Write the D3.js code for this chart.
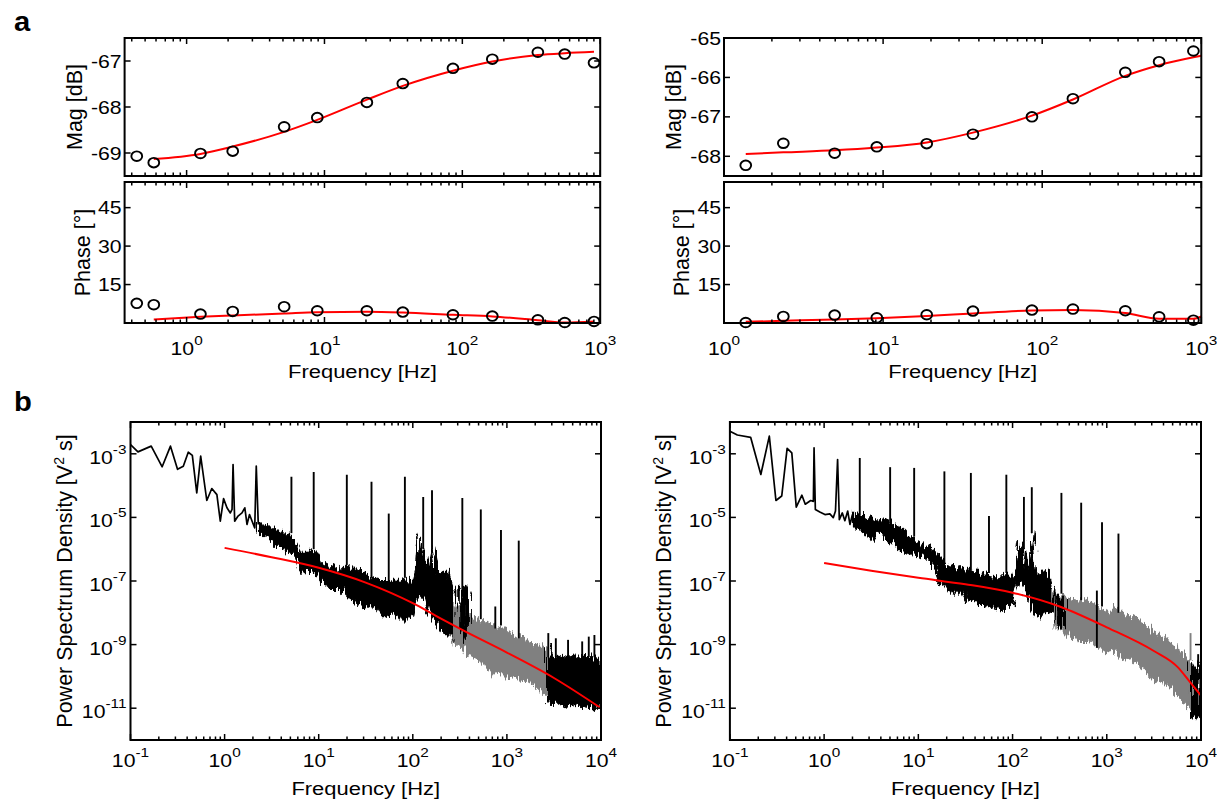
<!DOCTYPE html>
<html><head><meta charset="utf-8">
<script src="https://cdn.jsdelivr.net/npm/d3@7"></script>
<style>
body{margin:0;background:#fff}
svg{display:block}
text{font-family:"Liberation Sans", Arial, Helvetica, sans-serif;fill:#000}
</style>
</head><body>
<svg id="c" width="1217" height="802"></svg>
<script>
// ---------------- DATA: panel a (Bode) ----------------
const bodeFreqL = [0.435,0.578,1.26,2.16,5.1,8.87,20.3,37,85.5,165,353,553,902];
const bodeMagL  = [-69.07,-69.21,-69.01,-68.96,-68.43,-68.23,-67.90,-67.49,-67.16,-66.96,-66.81,-66.85,-67.04];
const bodePhL   = [7.66,7.14,3.47,4.52,6.35,4.78,4.78,4.26,3.21,2.69,1.25,0.2,0.6];
const fitFreqL  = [0.578,1.26,2.16,5.1,8.87,20.3,37,85.5,165,353,553,902];
const fitMagL   = [-69.13,-69.02,-68.86,-68.54,-68.28,-67.84,-67.54,-67.21,-67.01,-66.87,-66.83,-66.80];
const fitPhL    = [1.38,2.4,2.95,3.7,4.2,4.4,4.1,3.2,2.55,1.1,0.2,0.6];

const bodeFreqR = [1.37,2.36,4.96,9.13,18.8,36.7,86.2,156,333,543,892];
const bodeMagR  = [-68.23,-67.67,-67.92,-67.76,-67.68,-67.44,-67.0,-66.54,-65.87,-65.60,-65.33];
const bodePhR   = [0.2,2.55,3.08,2.03,3.21,4.65,5.04,5.44,4.78,2.42,1.11];
const fitFreqR  = [1.37,2.36,4.96,9.13,18.8,36.7,86.2,156,333,543,892,1000];
const fitMagR   = [-67.94,-67.90,-67.85,-67.78,-67.65,-67.40,-66.97,-66.56,-65.96,-65.69,-65.49,-65.45];
const fitPhR    = [0.46,0.85,1.38,1.9,2.7,3.73,4.9,5.04,3.86,1.64,1.64,2.55];

const magTicksL = [-69,-68,-67];
const magTicksR = [-68,-67,-66,-65];
const phaseTicks = [15,30,45];

// ---------------- DATA: panel b (PSD), left ----------------
const lineFL = [0.1,0.12,0.166,0.217,0.266,0.316,0.364,0.411,0.454,0.506,0.557,0.647,0.731,0.828,0.9,0.975,1.06,1.15,1.2,1.23,1.28,1.39,1.53,1.64,1.73,1.84,1.96,2.09,2.17,2.28];
const lineVL = [1.95e-3,1.15e-3,1.74e-3,3.9e-4,1.74e-3,3.24e-4,4.07e-4,1.12e-3,8.9e-4,5.9e-5,8.5e-4,3.4e-5,8.1e-5,5.2e-5,7.6e-6,3.9e-5,2.0e-5,1.38e-5,1.78e-5,4.6e-4,7.6e-6,1.1e-5,1.38e-5,2.0e-5,6.0e-6,1.23e-5,7.6e-6,4.7e-6,4.1e-4,6.0e-6];

const bandFL = [2.29,2.82,3.21,3.59,4.11,4.57,5.13,5.82,6.41,7.53,8.85,10.4,12.2,14.4,16.9,19.9,23.3,27.5,32.3,37.9,44.6,52.4,61.5,72.4,85.1,100,108,117,133,144,163,183,207,233,264,279];
const bandUL = [7.1e-6,5.2e-6,4.7e-6,4.2e-6,3.7e-6,2.8e-6,3.2e-6,1.41e-6,7.9e-7,7.9e-7,9.8e-7,4.2e-7,3.3e-7,2.6e-7,2.0e-7,3.3e-7,2.0e-7,2.6e-7,1.58e-7,1.26e-7,1.1e-7,1.1e-7,9.8e-8,9.8e-8,1.26e-7,8.7e-8,2.0e-7,3.2e-6,8.7e-7,2.0e-7,1.1e-6,1.58e-7,2.0e-7,2.0e-7,6.0e-8,5.0e-8];
const bandLL = [3.2e-6,2.3e-6,2.0e-6,1.23e-6,1.23e-6,7.9e-7,7.1e-7,5.0e-7,1.9e-7,2.0e-7,2.0e-7,9.8e-8,7.8e-8,5.4e-8,5.4e-8,3.3e-8,2.3e-8,1.82e-8,1.58e-8,2.0e-8,8.7e-9,8.7e-9,1.12e-8,6.0e-9,6.0e-9,6.9e-9,2.3e-8,3.7e-8,2.6e-8,1.12e-8,6.9e-9,4.3e-9,2.6e-9,2.0e-9,1.82e-9,1.26e-9];

const grayFL = [275,323,379,446,524,615,724,851,1000,1191,1445,1754,2188,2710];
const grayUL = [1.41e-8,2.0e-8,8.7e-9,6.9e-9,5.4e-9,4.8e-9,4.3e-9,3.3e-9,3.3e-9,1.82e-9,1.58e-9,1.12e-9,8.9e-10,6.9e-10];
const grayLL = [8.9e-10,1.0e-9,4.8e-10,3.8e-10,3.0e-10,2.3e-10,1.12e-10,1.45e-10,8.9e-11,1.0e-10,7.9e-11,6.2e-11,4.0e-11,2.3e-11];

const patchFL = [316,355,389];
const patchUL = [5.0e-8,6.3e-8,3.2e-8];
const patchLL = [3.2e-9,1.26e-9,2.0e-9];

const tailFL = [2710,3020,3388,3802,4365,5082,5888,6792,7586,8241,9120,10000];
const tailUL = [1.0e-9,4.5e-10,5.0e-10,4.0e-10,4.5e-10,5.0e-10,4.0e-10,4.5e-10,3.5e-10,4.5e-10,4.0e-10,4.0e-10];
const tailLL = [1.62e-11,1.41e-11,1.58e-11,1.29e-11,1.12e-11,1.45e-11,1.26e-11,1.0e-11,1.12e-11,8.9e-12,1.0e-11,1.0e-11];

const spikeFL    = [5.13,8.85,19.9,36.4,55.5,82.4,129,160,336,528,753,865,1336,2754,3311,4467,6310,7413,8511];
const spikeBaseL = [3.2e-6,1.0e-6,3.2e-7,1.26e-7,1.0e-7,1.26e-7,1.0e-6,1.0e-6,3.2e-8,6.3e-9,3.2e-9,4.0e-9,1.58e-9,4e-10,4e-10,4e-10,4e-10,4e-10,4e-10];
const spikePeakL = [1.9e-4,2.7e-4,2.2e-4,1.32e-4,1.32e-5,1.9e-4,4.4e-5,7.1e-5,4.1e-5,1.78e-5,1.58e-8,4.0e-6,1.86e-6,2.3e-9,1.58e-9,1.41e-9,1.26e-9,1.78e-9,2.0e-9];

const fitPsdFL = [1,3.16,10,31.6,100,178,316,1000,3162,10000];
const fitPsdVL = [1.1e-6,5.6e-7,2.6e-7,8.9e-8,2.0e-8,7.9e-9,3.16e-9,5.6e-10,8.9e-11,1.0e-11];

// ---------------- DATA: panel b (PSD), right ----------------
const lineFR = [0.1,0.12,0.166,0.213,0.262,0.308,0.355,0.405,0.454,0.506,0.581,0.631,0.72,0.769,0.782,0.807,0.9,1.02,1.15,1.25,1.32,1.39,1.45,1.56,1.66,1.78,1.88,2.0];
const lineVR = [5.1e-3,3.9e-3,3.3e-3,2.24e-4,3.6e-3,3.4e-5,4.7e-5,1.48e-3,1.07e-3,2.1e-5,5.0e-5,2.6e-5,3.4e-5,3.2e-5,1.55e-3,1.78e-5,1.48e-5,1.23e-5,1.29e-5,9.8e-6,1.58e-5,6.6e-4,8.5e-6,1.38e-5,7.9e-6,1.58e-5,6.0e-6,1.23e-5];

const bandFR = [2.0,2.24,2.51,2.82,3.21,3.63,4.11,4.68,5.26,5.89,6.75,7.53,8.85,10.4,12.2,14.4,16.9,19.9,23.3,27.5,32.3,37.9,44.6,52.4,61.5,72.4,85.1,100,108,117,133,144,163,183,207,233,264,275];
const bandUR = [1.41e-5,1.12e-5,1.23e-5,8.9e-6,1.23e-5,7.9e-6,7.6e-6,8.9e-6,6.0e-6,5.0e-6,4.2e-6,2.9e-6,2.3e-6,1.58e-6,1.23e-6,9.8e-7,5.4e-7,2.9e-7,2.6e-7,2.6e-7,2.0e-7,2.3e-7,1.58e-7,1.78e-7,1.26e-7,1.26e-7,1.78e-7,1.1e-7,2.6e-7,1.78e-6,1.1e-6,2.0e-7,3.7e-6,1.26e-7,2.0e-7,2.3e-7,6.0e-8,5.6e-8];
const bandLR = [5.0e-6,4.5e-6,4.2e-6,3.2e-6,2.0e-6,3.5e-6,2.9e-6,2.2e-6,1.58e-6,1.12e-6,8.7e-7,7.6e-7,6.8e-7,6.0e-7,5.4e-7,3.3e-7,8.7e-8,7.8e-8,3.3e-8,5.4e-8,2.3e-8,2.6e-8,1.58e-8,1.58e-8,1.41e-8,1.26e-8,1.41e-8,1.58e-8,5.4e-8,9.8e-8,6.8e-8,3.3e-8,1.12e-8,6.9e-9,8.7e-9,9.8e-9,8.7e-9,7.9e-9];

const grayFR = [275,323,379,446,524,615,724,851,1000,1130,1445,1828,2344,2958,3802,4786,6026,7031,7943];
const grayUR = [5.4e-8,3.3e-8,3.0e-8,2.6e-8,2.3e-8,2.6e-8,1.82e-8,1.41e-8,1.12e-8,1.58e-8,1.0e-8,7.8e-9,5.0e-9,3.0e-9,1.78e-9,1.12e-9,6.3e-10,3.4e-10,2.5e-10];
const grayLR = [3.3e-9,5.4e-9,2.0e-9,1.62e-9,1.26e-9,1.26e-9,1.0e-9,7.8e-10,5.6e-10,7.1e-10,4.5e-10,3.4e-10,1.78e-10,1.0e-10,6.3e-11,3.8e-11,2.0e-11,1.15e-11,1.0e-11];

const patchFR = [295,324,355];
const patchUR = [4.0e-8,2.5e-8,3.2e-8];
const patchLR = [5.0e-9,3.2e-9,4.0e-9];

const tailFR = [7943,8511,9120,10000];
const tailUR = [2.5e-10,1.62e-10,3.2e-10,2.1e-10];
const tailLR = [6.3e-12,4.4e-12,5.0e-12,6.3e-12];

const spikeFR    = [2.39,5.02,9.03,18.9,36.1,56.2,85.9,132,160,330,535,785,890,1330,7745,9333];
const spikeBaseR = [1.12e-5,6.3e-6,2.5e-6,3.5e-7,2.2e-7,1.78e-7,1.78e-7,1.0e-6,3.2e-6,4.0e-8,2.5e-8,7.9e-10,1.58e-8,1.0e-8,3.2e-10,2.0e-10];
const spikePeakR = [7.4e-4,3.8e-4,3.6e-4,2.8e-4,2.5e-4,1.1e-5,2.2e-4,4.4e-5,8.9e-5,5.9e-5,2.9e-5,5.0e-8,7.1e-6,3.1e-6,2.3e-9,5.0e-10];
const spikeGrayR = [false,false,false,false,false,false,false,false,false,false,false,false,false,false,true,false];

const fitPsdFR = [1,3.16,10,31.6,100,316,1000,3162,5623,7762,10000];
const fitPsdVR = [3.7e-7,2.1e-7,1.26e-7,7.9e-8,4.3e-8,1.58e-8,3.5e-9,6.3e-10,2.0e-10,6.3e-11,2.5e-11];

const psdTicks = [1e-11,1e-9,1e-7,1e-5,1e-3];

// ---------------- DRAWING ----------------
const SX = 1.18; // horizontal stretch of the reference text
const svg = d3.select('#c');
const defs = svg.append('defs');
const filt = defs.append('filter').attr('id','rough').attr('filterUnits','userSpaceOnUse')
  .attr('x',0).attr('y',0).attr('width',1217).attr('height',802);
filt.append('feTurbulence').attr('type','fractalNoise').attr('baseFrequency','0.45 0.04')
  .attr('numOctaves',2).attr('seed',7).attr('result','n');
filt.append('feDisplacementMap').attr('in','SourceGraphic').attr('in2','n').attr('scale',14)
  .attr('xChannelSelector','B').attr('yChannelSelector','G');

let clipId = 0;
function clipRect(x0,y0,x1,y1){
  const id = 'clip'+(clipId++);
  defs.append('clipPath').attr('id',id).append('rect')
    .attr('x',x0).attr('y',y0).attr('width',x1-x0).attr('height',y1-y0);
  return 'url(#'+id+')';
}
function frame(x0,y0,x1,y1){
  svg.append('rect').attr('x',x0).attr('y',y0).attr('width',x1-x0).attr('height',y1-y0)
    .attr('fill','none').attr('stroke','#000').attr('stroke-width',2);
}
function isDecade(t){ const l=Math.log10(t); return Math.abs(l-Math.round(l))<1e-6; }
function hText(x,y,str,size,anchor){
  return svg.append('text').attr('transform','translate('+x+','+y+') scale('+SX+',1)')
    .attr('text-anchor',anchor).attr('font-size',size).text(str);
}
function supLabel(x,y,exp,anchor){
  const t = hText(x,y,'10',18,anchor);
  t.append('tspan').attr('dy',-10).attr('font-size',13).text(exp);
  return t;
}
function xLogTicks(xs, y0, y1, labelY){
  xs.ticks().forEach(t=>{
    const maj = isDecade(t), L = maj?6:3.5, x = xs(t);
    svg.append('line').attr('x1',x).attr('x2',x).attr('y1',y1).attr('y2',y1-L).attr('stroke','#000').attr('stroke-width',1.5);
    svg.append('line').attr('x1',x).attr('x2',x).attr('y1',y0).attr('y2',y0+L).attr('stroke','#000').attr('stroke-width',1.5);
    if(maj && labelY!=null){
      supLabel(x, labelY, String(Math.round(Math.log10(t))), 'middle');
    }
  });
}
function yLinTicks(ys, vals, x0, x1){
  vals.forEach(v=>{
    const y = ys(v);
    svg.append('line').attr('x1',x0).attr('x2',x0+6).attr('y1',y).attr('y2',y).attr('stroke','#000').attr('stroke-width',1.5);
    svg.append('line').attr('x1',x1).attr('x2',x1-6).attr('y1',y).attr('y2',y).attr('stroke','#000').attr('stroke-width',1.5);
    hText(x0-3,y+6.5,String(v),18,'end');
  });
}
function yLabel(cx,cy,txt,size){
  return svg.append('text').attr('transform','translate('+cx+','+cy+') rotate(-90)')
    .attr('text-anchor','middle').attr('dy','0.3em').attr('font-size',size).text(txt);
}

function bodePanel(o){
  const xs = d3.scaleLog().domain(o.xDomain).range([o.x0,o.x1]);
  const yM = d3.scaleLinear().domain(o.magDomain).range([176,38]);
  const yP = d3.scaleLinear().domain([0,55]).range([323,182]);
  const cM = clipRect(o.x0,38,o.x1,176);
  svg.append('path').attr('clip-path',cM)
    .datum(d3.zip(o.fitF,o.fitMag))
    .attr('d',d3.line().x(d=>xs(d[0])).y(d=>yM(d[1])).curve(d3.curveMonotoneX))
    .attr('fill','none').attr('stroke','#ff0000').attr('stroke-width',2);
  svg.append('g').selectAll('ellipse').data(d3.zip(o.freq,o.mag)).join('ellipse')
    .attr('cx',d=>xs(d[0])).attr('cy',d=>yM(d[1])).attr('rx',5.4).attr('ry',4.8)
    .attr('fill','none').attr('stroke','#000').attr('stroke-width',1.9);
  const cP = clipRect(o.x0,182,o.x1,323);
  svg.append('path').attr('clip-path',cP)
    .datum(d3.zip(o.fitF,o.fitPh))
    .attr('d',d3.line().x(d=>xs(d[0])).y(d=>yP(d[1])).curve(d3.curveMonotoneX))
    .attr('fill','none').attr('stroke','#ff0000').attr('stroke-width',2);
  svg.append('g').selectAll('ellipse').data(d3.zip(o.freq,o.ph)).join('ellipse')
    .attr('cx',d=>xs(d[0])).attr('cy',d=>yP(d[1])).attr('rx',5.4).attr('ry',4.8)
    .attr('fill','none').attr('stroke','#000').attr('stroke-width',1.9);
  frame(o.x0,38,o.x1,176);
  frame(o.x0,182,o.x1,323);
  xLogTicks(xs,38,176,null);
  xLogTicks(xs,182,323,355);
  yLinTicks(yM,o.magTicks,o.x0,o.x1);
  yLinTicks(yP,phaseTicks,o.x0,o.x1);
  yLabel(o.x0-49.5,107,'Mag [dB]',21.5);
  yLabel(o.x0-41.5,252.5,'Phase [°]',21.5);
  hText((o.x0+o.x1)/2,378,'Frequency [Hz]',18.6,'middle');
}

function psdPanel(o){
  const xs = d3.scaleLog().domain([0.1,1e4]).range([o.x0,o.x1]);
  const ys = d3.scaleLog().domain([1e-12,1e-2]).range([740,422]);
  const cp = clipRect(o.x0,422,o.x1,740);
  const g = svg.append('g').attr('clip-path',cp);
  const rough = g.append('g').attr('filter','url(#rough)');
  const band = (F,U,L,col)=>{
    rough.append('path').datum(d3.zip(F,U,L))
      .attr('d',d3.area().x(d=>xs(d[0])).y0(d=>ys(d[2])).y1(d=>ys(d[1])))
      .attr('fill',col).attr('stroke',col).attr('stroke-width',1.2).attr('stroke-linejoin','round');
  };
  g.append('path').datum(d3.zip(o.lineF,o.lineV))
    .attr('d',d3.line().x(d=>xs(d[0])).y(d=>ys(d[1])))
    .attr('fill','none').attr('stroke','#000').attr('stroke-width',1.7).attr('stroke-linejoin','round');
  band(o.bandF,o.bandU,o.bandL,'#000');
  band(o.grayF,o.grayU,o.grayL,'#808080');
  band(o.patchF,o.patchU,o.patchL,'#000');
  band(o.tailF,o.tailU,o.tailL,'#000');
  g.selectAll('line.sp').data(d3.range(o.spikeF.length)).join('line')
    .attr('x1',i=>xs(o.spikeF[i])).attr('x2',i=>xs(o.spikeF[i]))
    .attr('y1',i=>ys(o.spikeBase[i])).attr('y2',i=>ys(o.spikePeak[i]))
    .attr('stroke',i=>(o.spikeGray&&o.spikeGray[i])?'#808080':'#000').attr('stroke-width',1.9);
  g.append('path').datum(d3.zip(o.fitF,o.fitV))
    .attr('d',d3.line().x(d=>xs(d[0])).y(d=>ys(d[1])).curve(d3.curveMonotoneX))
    .attr('fill','none').attr('stroke','#ff0000').attr('stroke-width',2);
  frame(o.x0,422,o.x1,740);
  xLogTicks(xs,422,740,767);
  psdTicks.forEach(v=>{
    const y = ys(v);
    svg.append('line').attr('x1',o.x0).attr('x2',o.x0+6).attr('y1',y).attr('y2',y).attr('stroke','#000').attr('stroke-width',1.5);
    svg.append('line').attr('x1',o.x1).attr('x2',o.x1-6).attr('y1',y).attr('y2',y).attr('stroke','#000').attr('stroke-width',1.5);
    supLabel(o.x0-4, y+10, String(Math.round(Math.log10(v))), 'end');
  });
  const t = yLabel(o.x0-65,581,'',21.5);
  t.append('tspan').text('Power Spectrum Density [V');
  t.append('tspan').attr('dy',-8).attr('font-size',14).text('2');
  t.append('tspan').attr('dy',8).text(' s]');
  hText((o.x0+o.x1)/2,795,'Frequency [Hz]',18.6,'middle');
}

bodePanel({x0:124.6,x1:600.2,xDomain:[0.355,1000],magDomain:[-69.5,-66.5],magTicks:magTicksL,
  freq:bodeFreqL,mag:bodeMagL,ph:bodePhL,fitF:fitFreqL,fitMag:fitMagL,fitPh:fitPhL});
bodePanel({x0:724,x1:1201.3,xDomain:[1,1000],magDomain:[-68.5,-65],magTicks:magTicksR,
  freq:bodeFreqR,mag:bodeMagR,ph:bodePhR,fitF:fitFreqR,fitMag:fitMagR,fitPh:fitPhR});

psdPanel({x0:130.5,x1:601,lineF:lineFL,lineV:lineVL,bandF:bandFL,bandU:bandUL,bandL:bandLL,
  grayF:grayFL,grayU:grayUL,grayL:grayLL,patchF:patchFL,patchU:patchUL,patchL:patchLL,
  tailF:tailFL,tailU:tailUL,tailL:tailLL,spikeF:spikeFL,spikeBase:spikeBaseL,spikePeak:spikePeakL,
  fitF:fitPsdFL,fitV:fitPsdVL});
psdPanel({x0:729.9,x1:1201,lineF:lineFR,lineV:lineVR,bandF:bandFR,bandU:bandUR,bandL:bandLR,
  grayF:grayFR,grayU:grayUR,grayL:grayLR,patchF:patchFR,patchU:patchUR,patchL:patchLR,
  tailF:tailFR,tailU:tailUR,tailL:tailLR,spikeF:spikeFR,spikeBase:spikeBaseR,spikePeak:spikePeakR,spikeGray:spikeGrayR,
  fitF:fitPsdFR,fitV:fitPsdVR});

svg.append('text').attr('transform','translate(14,31) scale(1.08,1)').attr('font-size',27).attr('font-weight','bold').text('a');
svg.append('text').attr('transform','translate(14,411) scale(1.08,1)').attr('font-size',27).attr('font-weight','bold').text('b');
</script>
</body></html>
